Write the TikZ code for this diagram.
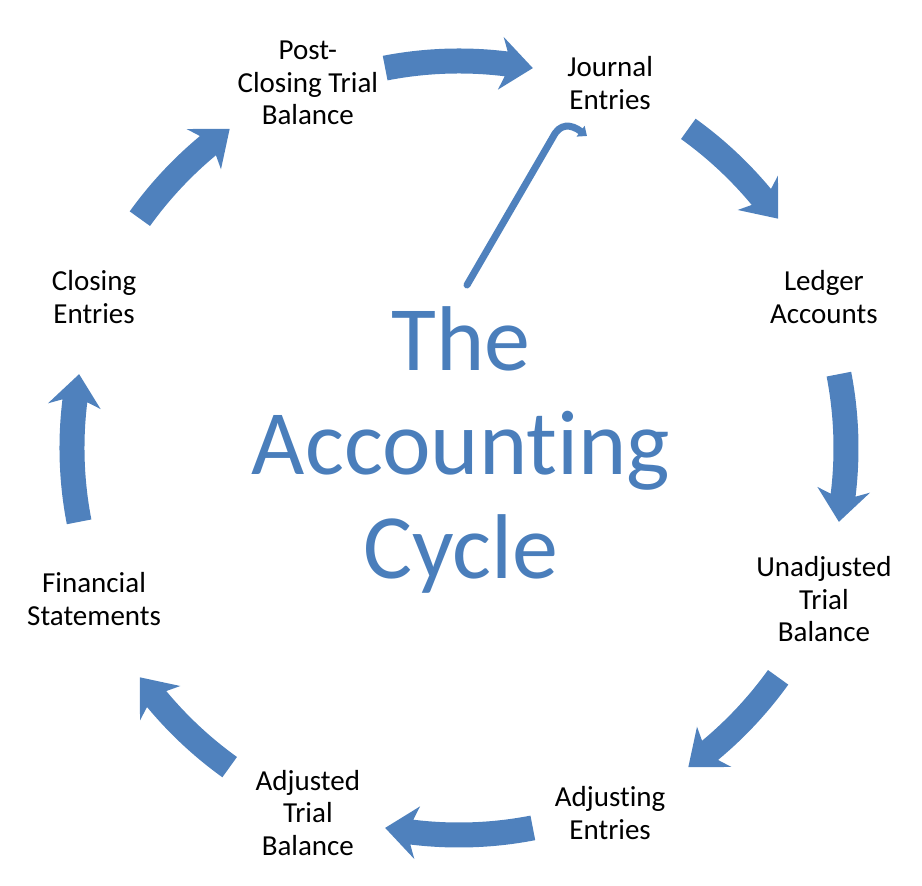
\documentclass[tikz,border=0pt]{standalone}
\usepackage{fontspec}
\setmainfont{Carlito}[Ligatures=NoCommon]
\usetikzlibrary{arrows.meta}
\definecolor{accent}{HTML}{4F81BD}
\definecolor{titleblue}{HTML}{4A7EBB}
\tikzset{
  label/.style={align=center, inner sep=0pt, text=black,
    font=\fontsize{29}{32.5}\selectfont},
  titletext/.style={align=center, inner sep=0pt, text=titleblue,
    font=\fontsize{92}{104}\selectfont},
  blockarrow/.style={fill=accent, draw=none},
  pointer/.style={draw=accent, line width=7pt, line cap=round,
    -{Triangle[length=8pt,width=13pt]}}
}
\begin{document}
\begin{tikzpicture}[x=1pt,y=1pt]
\useasboundingbox (-459,-438) rectangle (463,448);
% labels
\node[label] (post) at (112.5:395) {Post-\\Closing Trial\\Balance};
\node[label] (jour) at (67.5:395) {Journal\\Entries};
\node[label] (ledg) at (22.5:395) {Ledger\\Accounts};
\node[label] (unad) at (-22.5:395) {Unadjusted\\Trial\\Balance};
\node[label] (adji) at (-67.5:395) {Adjusting\\Entries};
\node[label] (adje) at (-112.5:395) {Adjusted\\Trial\\Balance};
\node[label] (fina) at (-157.5:395) {Financial\\Statements};
\node[label] (clos) at (157.5:395) {Closing\\Entries};
% centre title
\node[titletext] (title) at (2,-2) {The\\Accounting\\Cycle};
% curved block arrows
\foreach \a/\r/\s in {90/387/11, 45/393/9.3, 0/387/11, -45/393/9.3,
                      -90/387/11, -135/393/9.3, 180/387/11, 135/393/9.3}{
  \pgfmathsetmacro\t{\a+\s}
  \pgfmathsetmacro\b{\a-\s+4}
  \pgfmathsetmacro\c{\a-\s+4.8}
  \pgfmathsetmacro\e{\a-\s}
  \pgfmathsetmacro\ro{\r+12.5}
  \pgfmathsetmacro\ri{\r-12.5}
  \pgfmathsetmacro\ho{\r+26.5}
  \pgfmathsetmacro\hi{\r-26.5}
  \fill[blockarrow] (\t:\ro pt) arc[start angle=\t, end angle=\b, radius=\ro pt]
     -- (\c:\ho pt) -- (\e:\r pt) -- (\c:\hi pt)
     -- (\b:\ri pt) arc[start angle=\b, end angle=\t, radius=\ri pt] -- cycle;
}
% thin pointer
\coordinate (pstart) at (8,163);
\coordinate (pbend) at (94,311);
\coordinate (pend) at (128,312);
\draw[pointer] (pstart) -- (pbend) .. controls (101,325) and (112,324) .. (pend);
\end{tikzpicture}
\end{document}
